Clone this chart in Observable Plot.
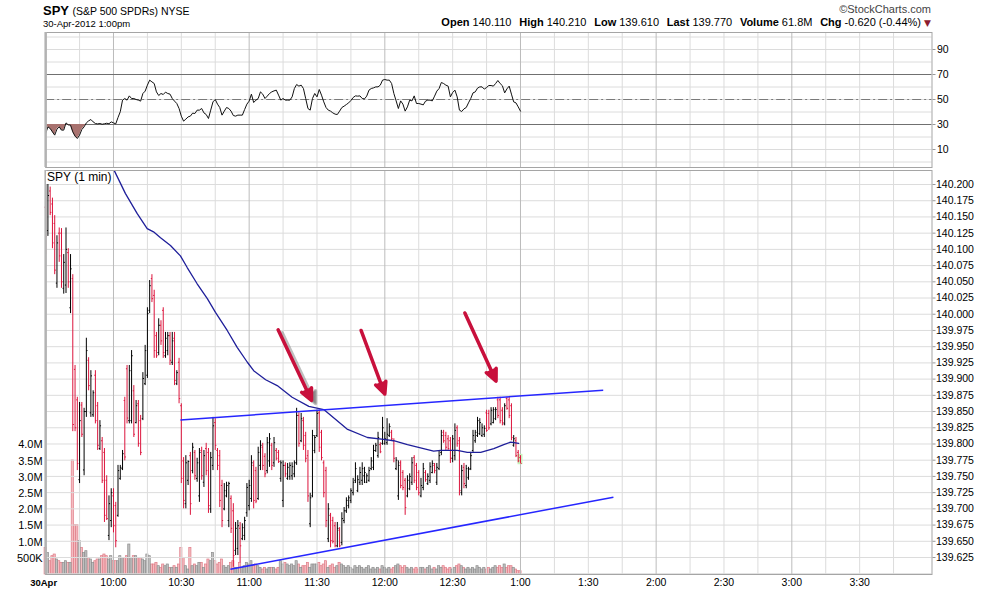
<!DOCTYPE html>
<html><head><meta charset="utf-8">
<script src="https://cdn.jsdelivr.net/npm/d3@7"></script>
<script src="https://cdn.jsdelivr.net/npm/@observablehq/plot@0.6"></script>
<style>
body{margin:0;background:#fff;}
#wrap{position:relative;width:990px;height:591px;overflow:hidden;font-family:"Liberation Sans",Arial,sans-serif;color:#000;}
.abs{position:absolute;white-space:nowrap;}
#hdr b{margin-left:1.6px;}
</style></head><body><div id="wrap"></div>
<script>
// ---------- data ----------
const headerLabels = ["Open","High","Low","Last","Volume","Chg"];
const headerValues = ["140.110","140.210","139.610","139.770","61.8M","-0.620 (-0.44%)"];

const open = [
140.165,140.129,140.190,140.170,140.140,140.048,140.125,140.125,140.040,140.045,
140.095,140.010,140.055,139.915,139.868,139.745,139.860,139.760,139.850,139.929,
139.848,139.845,139.906,139.859,139.793,139.805,139.787,139.744,139.659,139.682,
139.720,139.705,139.690,139.747,139.762,139.867,139.916,139.836,139.836,139.882,
139.833,139.862,139.836,139.839,139.893,139.906,140.006,140.055,140.029,139.967,
139.941,139.983,140.006,139.936,139.944,139.967,139.926,139.963,139.893,139.926,
139.859,139.774,139.708,139.744,139.782,139.759,139.787,139.747,139.720,139.790,
139.741,139.793,139.787,139.700,139.767,139.833,139.790,139.782,139.736,139.700,
139.720,139.682,139.716,139.697,139.636,139.639,139.670,139.654,139.659,139.694,
139.705,139.716,139.767,139.759,139.716,139.767,139.795,139.781,139.759,139.774,
139.798,139.771,139.790,139.787,139.747,139.713,139.767,139.747,139.750,139.751,
139.754,139.771,139.844,139.805,139.836,139.813,139.782,139.677,139.720,139.790,
139.813,139.848,139.818,139.771,139.759,139.654,139.690,139.682,139.674,139.643,
139.667,139.648,139.682,139.697,139.705,139.713,139.725,139.744,139.728,139.741,
139.744,139.751,139.741,139.744,139.762,139.764,139.790,139.782,139.799,139.801,
139.801,139.802,139.813,139.818,139.805,139.762,139.720,139.771,139.756,139.744,
139.720,139.731,139.741,139.779,139.767,139.756,139.720,139.733,139.756,139.739,
139.744,139.756,139.767,139.741,139.762,139.787,139.818,139.813,139.808,139.805,
139.778,139.782,139.825,139.805,139.725,139.764,139.736,139.748,139.762,139.790,
139.805,139.813,139.816,139.813,139.815,139.848,139.847,139.831,139.833,139.839,
139.868,139.868,139.852,139.831,139.870,139.868,139.859,139.798,139.805,139.787,
139.779];
const high = [
140.180,140.209,140.196,140.179,140.152,140.121,140.133,140.132,140.092,140.133,
140.101,140.092,140.061,139.921,139.872,139.864,139.864,139.855,139.963,139.933,
139.913,139.882,139.913,139.864,139.836,139.810,139.793,139.751,139.720,139.731,
139.731,139.710,139.767,139.767,139.790,139.872,139.921,139.921,139.944,139.890,
139.867,139.867,139.844,139.910,139.952,140.010,140.052,140.061,140.037,139.972,
139.993,139.990,140.010,139.972,139.972,139.972,139.972,139.972,139.913,139.932,
139.862,139.779,139.782,139.774,139.787,139.801,139.790,139.778,139.793,139.795,
139.790,139.801,139.793,139.787,139.841,139.839,139.793,139.790,139.744,139.739,
139.741,139.741,139.720,139.708,139.679,139.682,139.679,139.677,139.687,139.739,
139.744,139.782,139.774,139.764,139.795,139.805,139.801,139.785,139.810,139.816,
139.801,139.810,139.793,139.790,139.774,139.774,139.771,139.770,139.771,139.771,
139.774,139.855,139.848,139.847,139.841,139.818,139.790,139.724,139.821,139.813,
139.852,139.852,139.821,139.774,139.764,139.708,139.693,139.687,139.679,139.679,
139.671,139.694,139.702,139.717,139.720,139.731,139.747,139.771,139.751,139.764,
139.771,139.764,139.754,139.764,139.779,139.798,139.801,139.818,139.802,139.841,
139.818,139.839,139.831,139.821,139.808,139.779,139.774,139.774,139.759,139.747,
139.751,139.754,139.779,139.782,139.770,139.759,139.747,139.770,139.759,139.754,
139.771,139.774,139.770,139.770,139.790,139.821,139.821,139.818,139.813,139.810,
139.813,139.831,139.828,139.810,139.767,139.770,139.767,139.764,139.787,139.821,
139.821,139.841,139.839,139.831,139.828,139.852,139.852,139.856,139.856,139.856,
139.872,139.872,139.856,139.862,139.872,139.872,139.862,139.813,139.810,139.790,
139.782];
const low = [
140.092,140.120,140.152,140.101,140.061,140.040,140.080,140.040,140.031,140.032,
140.040,140.001,139.819,139.819,139.759,139.739,139.810,139.751,139.841,139.882,
139.841,139.841,139.831,139.790,139.790,139.739,139.679,139.682,139.651,139.671,
139.663,139.640,139.687,139.744,139.759,139.774,139.831,139.831,139.831,139.810,
139.831,139.795,139.782,139.836,139.890,139.901,140.001,140.018,139.932,139.932,
139.936,139.952,139.932,139.932,139.936,139.921,139.921,139.890,139.890,139.862,
139.739,139.700,139.700,139.736,139.690,139.754,139.744,139.741,139.710,139.744,
139.733,139.751,139.693,139.693,139.759,139.790,139.759,139.702,139.671,139.697,
139.717,139.671,139.662,139.610,139.628,139.628,139.617,139.651,139.651,139.687,
139.697,139.710,139.700,139.708,139.713,139.759,139.759,139.748,139.754,139.764,
139.759,139.764,139.774,139.770,139.741,139.702,139.748,139.744,139.744,139.744,
139.748,139.767,139.795,139.802,139.790,139.771,139.710,139.671,139.717,139.785,
139.810,139.787,139.774,139.717,139.671,139.648,139.640,139.646,139.640,139.640,
139.640,139.643,139.677,139.693,139.700,139.708,139.720,139.739,139.725,139.736,
139.736,139.739,139.739,139.741,139.759,139.759,139.787,139.778,139.785,139.798,
139.798,139.798,139.810,139.805,139.771,139.759,139.713,139.731,139.728,139.690,
139.717,139.728,139.736,139.739,139.728,139.720,139.717,139.728,139.741,139.736,
139.739,139.754,139.754,139.736,139.759,139.782,139.801,139.790,139.790,139.770,
139.771,139.774,139.795,139.720,139.720,139.731,139.731,139.744,139.759,139.787,
139.801,139.810,139.813,139.810,139.810,139.818,139.821,139.828,139.831,139.836,
139.839,139.831,139.828,139.828,139.852,139.839,139.805,139.795,139.779,139.771,
139.770];
const close = [
140.120,140.183,140.157,140.110,140.068,140.110,140.090,140.050,140.080,140.100,
140.050,140.070,139.830,139.825,139.770,139.836,139.815,139.850,139.944,139.890,
139.905,139.879,139.836,139.798,139.828,139.744,139.690,139.685,139.708,139.725,
139.674,139.651,139.759,139.764,139.785,139.780,139.840,139.913,139.936,139.815,
139.859,139.801,139.787,139.901,139.944,140.001,140.044,140.024,139.944,139.936,
139.983,139.959,139.941,139.963,139.967,139.929,139.959,139.898,139.910,139.870,
139.747,139.713,139.771,139.773,139.708,139.795,139.751,139.771,139.787,139.751,
139.782,139.759,139.705,139.779,139.828,139.798,139.767,139.713,139.682,139.728,
139.736,139.739,139.670,139.628,139.670,139.674,139.643,139.671,139.682,139.733,
139.736,139.771,139.713,139.712,139.787,139.798,139.767,139.754,139.802,139.808,
139.767,139.802,139.778,139.773,139.771,139.767,139.754,139.764,139.767,139.765,
139.771,139.844,139.801,139.839,139.798,139.778,139.720,139.717,139.813,139.810,
139.847,139.795,139.779,139.725,139.682,139.700,139.651,139.650,139.643,139.670,
139.643,139.685,139.697,139.713,139.717,139.728,139.741,139.762,139.745,139.756,
139.762,139.756,139.751,139.759,139.774,139.790,139.798,139.810,139.788,139.825,
139.808,139.815,139.827,139.808,139.778,139.775,139.767,139.736,139.733,139.702,
139.744,139.750,139.771,139.744,139.733,139.725,139.736,139.762,139.745,139.750,
139.765,139.770,139.759,139.764,139.782,139.813,139.805,139.795,139.793,139.778,
139.808,139.821,139.801,139.728,139.759,139.739,139.762,139.761,139.782,139.813,
139.818,139.836,139.833,139.825,139.824,139.821,139.825,139.852,139.853,139.853,
139.844,139.836,139.833,139.859,139.855,139.844,139.810,139.808,139.782,139.774,
139.770];
// volume in thousands of shares
const volumeK = [
822,667,411,566,617,463,411,360,360,411,
360,360,3520,1520,1520,1030,822,667,720,514,
463,360,411,463,463,566,617,566,463,566,
411,411,411,566,514,514,566,926,514,566,
566,514,514,463,411,617,566,309,309,360,
257,206,309,257,309,206,206,257,206,309,
822,514,257,154,822,257,309,257,360,360,
206,309,463,411,667,411,309,360,463,257,
206,257,360,411,206,206,360,206,257,360,
309,411,257,309,257,206,154,206,154,206,
206,206,154,206,411,309,360,309,257,309,
257,411,309,206,257,257,360,206,309,309,
309,360,257,309,411,206,257,309,206,257,
360,309,257,206,257,206,154,257,206,257,
206,154,206,257,154,206,154,206,154,257,
206,154,206,154,206,257,309,257,206,257,
206,154,206,154,206,154,206,206,154,206,
257,154,206,154,257,206,257,206,154,206,
154,206,257,309,257,206,154,206,154,206,
154,257,206,154,206,154,206,154,206,257,
206,257,206,309,206,257,257,206,154,103,
103];
const rsi = [
22.8,28.1,26.8,24.1,21.5,26.3,28.1,25.5,25.5,31.3,
29.7,29.5,24.1,20.7,18.8,21.5,26.0,28.1,31.3,32.9,
34.0,32.1,30.8,30.5,30.8,30.2,30.6,31.0,30.6,32.1,
31.3,30.5,35.6,40.2,49.5,50.8,49.5,52.9,50.8,50.8,
50.0,49.5,48.7,54.8,56.7,61.5,65.5,64.1,62.8,56.1,
53.2,54.8,54.0,55.9,54.8,54.3,50.8,48.7,46.8,42.8,
36.7,32.7,34.3,36.1,36.7,39.1,38.8,41.5,41.5,42.8,
39.3,38.0,34.8,41.5,48.1,50.0,46.3,43.6,37.5,40.7,
43.6,42.8,40.7,37.2,36.7,37.5,37.5,37.5,42.0,46.3,
48.7,54.3,47.6,49.5,50.8,56.1,54.3,50.8,52.7,54.8,
56.1,56.9,57.5,53.5,49.5,50.8,49.5,49.5,49.5,52.1,
58.8,62.0,60.7,61.5,58.8,50.8,42.8,41.5,50.8,54.8,
52.1,58.0,53.5,48.1,43.6,41.5,40.7,39.3,38.3,38.0,
40.7,43.6,44.7,46.0,47.3,49.2,51.6,52.9,52.7,52.9,
50.8,50.5,52.7,57.5,58.8,59.3,60.1,60.1,61.5,65.5,
66.0,65.5,65.5,62.8,54.8,48.9,42.8,48.9,46.3,40.7,
44.1,49.5,48.9,52.9,46.8,46.8,46.3,45.7,48.7,49.5,
49.5,48.9,52.7,56.7,58.8,63.6,62.8,61.5,60.7,52.1,
55.6,57.5,52.1,41.5,40.4,42.5,43.6,47.3,50.8,55.3,
56.1,59.1,60.1,60.1,58.3,59.6,61.2,61.2,60.7,62.8,
65.2,62.8,61.0,55.3,58.5,60.7,54.3,48.1,47.3,44.1,
40.7];
// moving average: minutes after 9:30, value
const maTime = [30.4,35.3,40.5,44.9,47.7,50.8,55.2,59.6,62.6,67,71.5,75.1,80.3,84.7,89.2,92,97.3,102.4,109,116.4,123,133.3,142.3,149.5,153.9,160,165.8,171.6,174.7,182.1,186.5,192.4,198.2,202.6,205.7,209.2];
const maValue = [140.221,140.186,140.155,140.132,140.127,140.118,140.106,140.090,140.072,140.047,140.024,140.003,139.975,139.949,139.926,139.913,139.899,139.890,139.872,139.858,139.853,139.823,139.810,139.807,139.805,139.799,139.794,139.789,139.790,139.790,139.787,139.787,139.793,139.799,139.803,139.801];
// trend lines [t1, p1, t2, p2]
const trendLines = [[59.6,139.837,246.6,139.883],[81.7,139.607,251.1,139.718]];
// arrows [t tail, p tail, t tip, p tip]
const arrowPts = [[102.8,139.976,117.6,139.867],[139.5,139.975,150.0,139.877],[185.4,140.002,199.2,139.897]];

const priceTicks = [139.625,139.650,139.675,139.700,139.725,139.750,139.775,139.800,139.825,139.850,139.875,139.900,139.925,139.950,139.975,140.000,140.025,140.050,140.075,140.100,140.125,140.150,140.175,140.200];
const priceGrid = [139.600].concat(priceTicks);
const volTicks = [500000,1000000,1500000,2000000,2500000,3000000,3500000,4000000];
const volLabels = ["500K","1.0M","1.5M","2.0M","2.5M","3.0M","3.5M","4.0M"];
const rsiTicks = [10,30,50,70,90];
const rsiGrid = [0,10,20,30,40,50,60,70,80,90,100];
const timeTicks = [30,60,90,120,150,180,210,240,270,300,330,360];
const timeLabels = ["10:00","10:30","11:00","11:30","12:00","12:30","1:00","1:30","2:00","2:30","3:00","3:30"];
const hourGrid = [30,90,150,210,270,330];
const quarterGrid = [15,45,60,75,105,120,135,165,180,195,225,240,255,285,300,315,345,360,375];

// ---------- build ----------
const W = 990, ML = 45.16, MR = 58.5, xDomain = [0, 392];
const RED = "#dc143c", ARROW = "#c8103c";
const FONT = "'Liberation Sans', Arial, sans-serif";
const bars = open.map((o, t) => ({t, o, h: high[t], l: low[t], c: close[t], v: volumeK[t] * 1000}));
const down = d => d.c < d.o, up = d => !(d.c < d.o);
const rsiRows = rsi.map((v, t) => ({t, v}));
const maRows = maTime.map((t, i) => ({t, v: maValue[i]}));
const trendRows = trendLines.map(([t1, p1, t2, p2]) => ({t1, p1, t2, p2}));
const arrowRows = arrowPts.map(([t1, p1, t2, p2]) => ({t1, p1, t2, p2}));
const style = {background: "transparent", fontFamily: FONT, fontSize: "11px", color: "#000", overflow: "visible"};
const gridMarks = () => [
  Plot.gridX(quarterGrid, {stroke: "#dcdcdc", strokeOpacity: 1}),
  Plot.gridX(hourGrid, {stroke: "#bcbcbc", strokeOpacity: 1})
];

const wrap = document.getElementById("wrap");
function place(el, top) { el.style.position = "absolute"; el.style.left = "0px"; el.style.top = top + "px"; wrap.appendChild(el); return el; }

// header
const h1 = document.createElement("div");
h1.className = "abs"; h1.style.cssText += "left:43px;top:3px;font-size:13px;font-weight:bold;";
h1.innerHTML = 'SPY <span style="font-size:10.5px;font-weight:normal">(S&amp;P 500 SPDRs) NYSE</span>';
wrap.appendChild(h1);
const h2 = document.createElement("div");
h2.className = "abs"; h2.style.cssText += "left:43px;top:18px;font-size:9.5px;";
h2.textContent = "30-Apr-2012 1:00pm";
wrap.appendChild(h2);
const h3 = document.createElement("div");
h3.className = "abs"; h3.style.cssText += "right:59px;top:3px;font-size:11px;color:#444;";
h3.textContent = "\u00A9StockCharts.com";
wrap.appendChild(h3);
const h4 = document.createElement("div");
h4.id = "hdr";
h4.className = "abs"; h4.style.cssText += "right:59px;top:16px;font-size:11px;";
h4.innerHTML = headerLabels.map((l, i) => `<b>${l}</b> ${headerValues[i]}`).join("&nbsp; ") +
  ' <span style="color:#8c1c30;font-size:9px;font-family:DejaVu Sans">\u25BC</span>';
wrap.appendChild(h4);

// RSI panel
const rsiPlot = Plot.plot({
  width: W, height: 138, marginLeft: ML, marginRight: MR, marginTop: 2, marginBottom: 1,
  x: {domain: xDomain, axis: null},
  y: {domain: [-4.4, 103.6], axis: null, label: null},
  style,
  marks: [
    Plot.gridY(rsiGrid, {stroke: "#dcdcdc", strokeOpacity: 1}),
    ...gridMarks(),
    Plot.ruleY([70, 30], {stroke: "#707070"}),
    Plot.ruleY([50], {stroke: "#7a7a7a", strokeDasharray: "9,3,2,3"}),
    Plot.areaY(rsiRows, {x: "t", y1: d => 30, y2: d => Math.min(d.v, 30), fill: "#a8726f"}),
    Plot.line(rsiRows, {x: "t", y: "v", stroke: "#111", strokeWidth: 1}),
    Plot.frame({stroke: "#a5a5a5"}),
    Plot.ruleX([0], {stroke: "#b3b3b3", strokeWidth: 2.5}),
    Plot.axisY(rsiTicks, {anchor: "right", label: null, tickSize: 3, tickPadding: 2, fontSize: 10.5, stroke: "#999", fill: "#000"})
  ]
});
place(rsiPlot, 30);

// Volume panel (behind the price bars)
const volPlot = Plot.plot({
  width: W, height: 422, marginLeft: ML, marginRight: MR, marginTop: 2, marginBottom: 16,
  x: {domain: xDomain, axis: null},
  y: {domain: [0, 12.469e6], axis: null, label: null},
  style: {...style, background: "#fff"},
  marks: [
    Plot.rect(bars, {filter: down, x1: d => d.t - 0.48, x2: d => d.t + 0.48, y1: d => 0, y2: "v", fill: "#f4bcc0", stroke: "#e07b87", strokeWidth: 0.7}),
    Plot.rect(bars, {filter: up, x1: d => d.t - 0.48, x2: d => d.t + 0.48, y1: d => 0, y2: "v", fill: "#bfbfbf", stroke: "#8e8e8e", strokeWidth: 0.7}),
    Plot.axisY(volTicks, {anchor: "left", label: null, tickSize: 0, tickPadding: 3, fontSize: 11, tickFormat: d => volLabels[volTicks.indexOf(d)]})
  ]
});
place(volPlot, 168);

// Price panel
const last = bars[bars.length - 1];
const arrowOpts = {x1: "t1", y1: "p1", x2: "t2", y2: "p2", strokeWidth: 3.5, headLength: 5.5, headAngle: 50};
const pricePlot = Plot.plot({
  width: W, height: 422, marginLeft: ML, marginRight: MR, marginTop: 2, marginBottom: 16,
  x: {domain: xDomain, label: null},
  y: {domain: [139.5988, 140.2216], label: null},
  style,
  marks: [
    Plot.gridY(priceGrid, {stroke: "#dcdcdc", strokeOpacity: 1}),
    ...gridMarks(),
    Plot.rect([last], {x1: d => d.t - 1.1, x2: d => d.t + 1.1, y1: d => d.l - 0.002, y2: d => d.h + 0.002, fill: "#c6f2bc"}),
    Plot.ruleX(bars, {filter: up, x: "t", y1: "l", y2: "h", stroke: "#000", strokeWidth: 1}),
    Plot.link(bars, {filter: up, x1: d => d.t - 0.5, x2: "t", y1: "o", y2: "o", stroke: "#000"}),
    Plot.link(bars, {filter: up, x1: "t", x2: d => d.t + 0.5, y1: "c", y2: "c", stroke: "#000"}),
    Plot.ruleX(bars, {filter: down, x: "t", y1: "l", y2: "h", stroke: RED, strokeWidth: 1}),
    Plot.link(bars, {filter: down, x1: d => d.t - 0.5, x2: "t", y1: "o", y2: "o", stroke: RED}),
    Plot.link(bars, {filter: down, x1: "t", x2: d => d.t + 0.5, y1: "c", y2: "c", stroke: RED}),
    Plot.line(maRows, {x: "t", y: "v", stroke: "#1f1f9a", strokeWidth: 1.3, clip: true}),
    Plot.link(trendRows, {x1: "t1", y1: "p1", x2: "t2", y2: "p2", stroke: "#2626ff", strokeWidth: 1.5}),
    Plot.arrow([arrowRows[0]], {...arrowOpts, stroke: "#8a8a8a", strokeOpacity: 0.55, dx: 4, dy: 3, ariaLabel: "shadow"}),
    Plot.arrow(arrowRows, {...arrowOpts, stroke: ARROW}),
    Plot.frame({stroke: "#a5a5a5"}),
    Plot.ruleX([0], {stroke: "#b3b3b3", strokeWidth: 2.5}),
    Plot.axisY(priceTicks, {anchor: "right", label: null, tickSize: 3, tickPadding: 1, fontSize: 10.5, stroke: "#999", fill: "#000", tickFormat: d => d.toFixed(3)}),
    Plot.axisX(timeTicks, {anchor: "bottom", label: null, tickSize: 0, tickPadding: 4, fontSize: 10.5, tickFormat: d => timeLabels[timeTicks.indexOf(d)]}),
    Plot.text(["30Apr"], {x: d => 0, frameAnchor: "bottom", dy: 8, dx: -2, text: d => d, fontWeight: "bold", fontSize: 9.5, lineAnchor: "middle"})
  ]
});
place(pricePlot, 168);

// filled arrow heads + blurred shadow
const ps = d3.select(pricePlot);
const filt = ps.append("defs").append("filter").attr("id", "arrowBlur").attr("x", "-50%").attr("y", "-50%").attr("width", "200%").attr("height", "200%");
filt.append("feGaussianBlur").attr("stdDeviation", 2);
ps.selectAll('g[aria-label="shadow"]').attr("filter", "url(#arrowBlur)");
ps.selectAll('g[aria-label="arrow"] path, g[aria-label="shadow"] path').each(function () {
  const d = this.getAttribute("d"); if (!d) return;
  const n = (d.match(/-?\d*\.?\d+(?:e[-+]?\d+)?/g) || []).map(Number);
  if (n.length < 10) return;
  const k = n.length, [ax, ay, tx, ty, bx, by] = n.slice(k - 6);
  const col = this.parentNode.getAttribute("stroke") || this.getAttribute("stroke") || ARROW;
  d3.select(this.parentNode).append("path")
    .attr("d", `M${ax},${ay}L${tx},${ty}L${bx},${by}Z`)
    .attr("fill", col).attr("stroke", col).attr("stroke-width", 1.5);
});

// panel label
const lab = document.createElement("div");
lab.className = "abs"; lab.style.cssText += "left:46px;top:171px;font-size:12px;background:#fff;padding:0 1px;line-height:13px;";
lab.textContent = "SPY (1 min)";
wrap.appendChild(lab);
</script></body></html>
